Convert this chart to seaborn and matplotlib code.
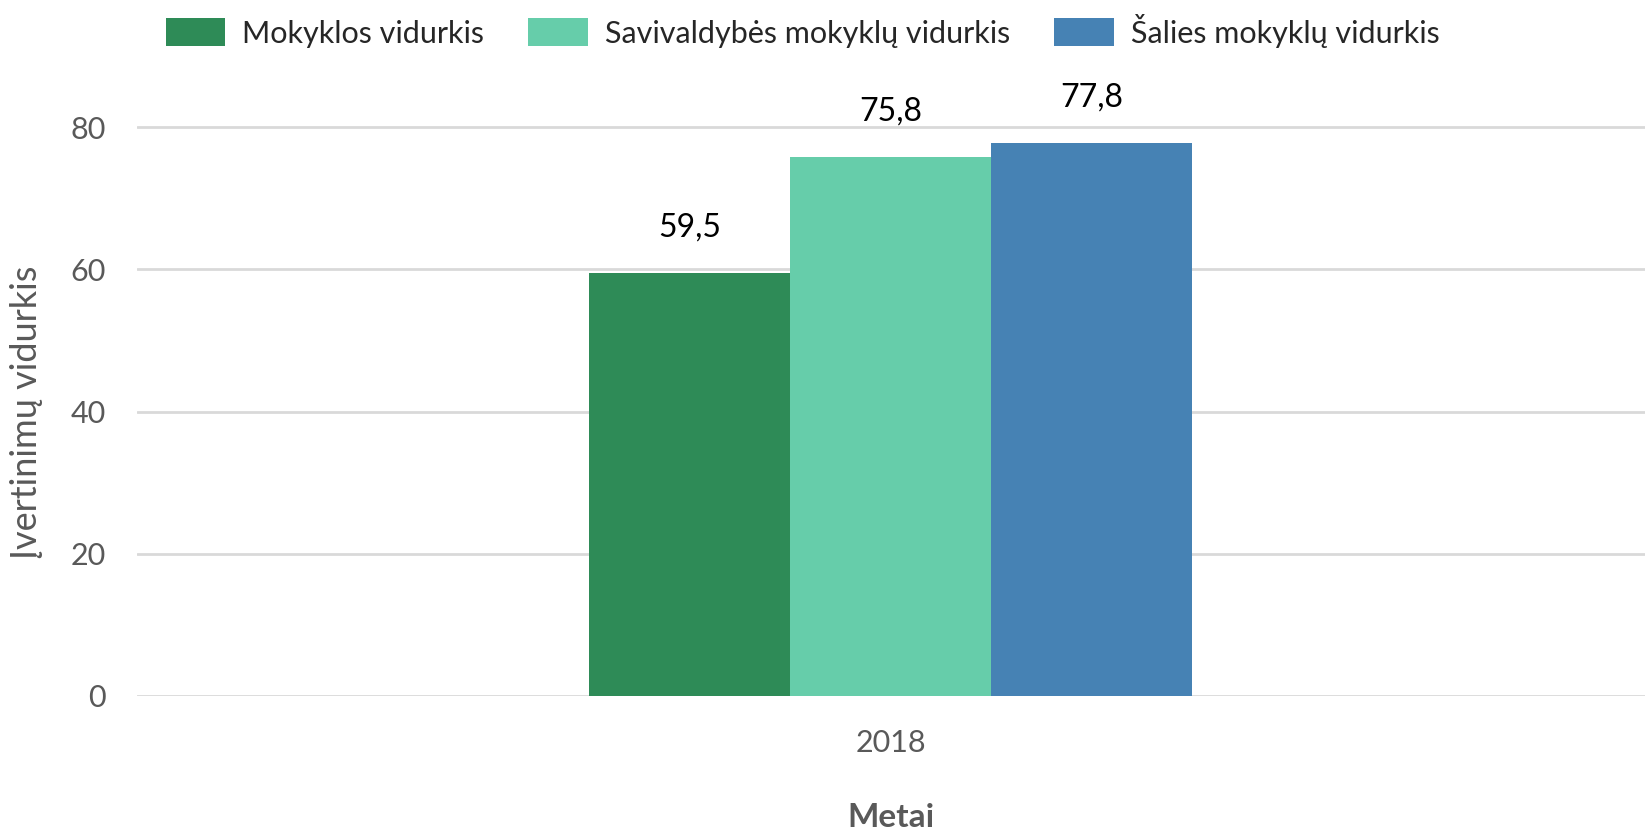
import matplotlib
matplotlib.use('Agg')
import matplotlib.pyplot as plt
import seaborn as sns
import pandas as pd

# data
years = ['2018']
series = ['Mokyklos vidurkis', 'Savivaldybės mokyklų vidurkis', 'Šalies mokyklų vidurkis']
values = [59.5, 75.8, 77.8]
colors = ['#2E8B57', '#66CDAA', '#4682B4']
y_ticks = [0, 20, 40, 60, 80]

sns.set_style('white')
plt.rcParams['font.family'] = ['Lato', 'DejaVu Sans']

df = pd.DataFrame({
    'Metai': years * len(series),
    'series': series,
    'value': values,
})

fig = plt.figure(figsize=(16.48, 8.31), dpi=100)
ax = fig.add_axes([0.083, 0.1625, 0.915, 0.77])

sns.barplot(data=df, x='Metai', y='value', hue='series', palette=colors,
            width=0.4, ax=ax, legend=True, saturation=1, linewidth=0)

ax.set_xlim(-0.5, 0.5)
ax.set_ylim(0, 90)
ax.set_yticks(y_ticks)
ax.yaxis.grid(True, color='#D9D9D9', linewidth=2)
ax.set_axisbelow(True)
for s in ax.spines.values():
    s.set_visible(False)
ax.tick_params(axis='y', length=0, labelsize=22, labelcolor='#595959', pad=22)
ax.tick_params(axis='x', length=0, labelsize=22, labelcolor='#595959', pad=24)

for c in ax.containers:
    ax.bar_label(c, labels=[f'{v:.1f}'.replace('.', ',') for v in c.datavalues],
                 padding=22, fontsize=23, color='black')

ax.set_xlabel('Metai', fontsize=24, fontweight='bold', color='#595959', labelpad=33)
ax.set_ylabel('Įvertinimų vidurkis', fontsize=26, color='#595959')
ax.yaxis.set_label_coords(-0.062, 0.444)

handles, labels = ax.get_legend_handles_labels()
ax.get_legend().remove()
fig.legend(handles, labels, loc='center', bbox_to_anchor=(0.487, 0.963), ncol=3,
           frameon=False, fontsize=22, handlelength=1.95, handleheight=1.05,
           columnspacing=1.45, handletextpad=0.55)

fig.savefig('out.png', dpi=100)
